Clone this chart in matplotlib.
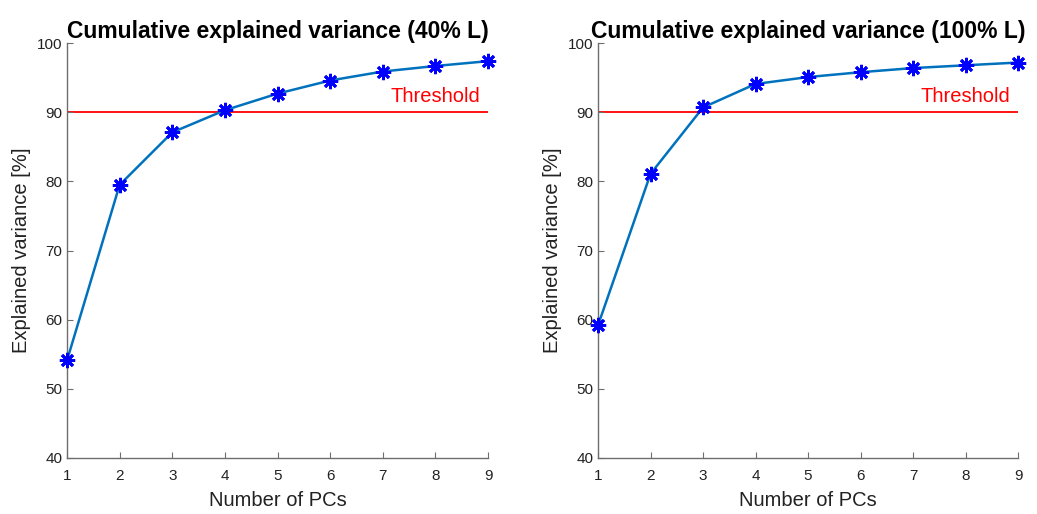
import matplotlib
matplotlib.use("Agg")
import matplotlib.pyplot as plt

# ──────────────────────────────────────────────────────────────────────────────
# Data
n_pcs = [1, 2, 3, 4, 5, 6, 7, 8, 9]
var_40 = [54.1, 79.5, 87.1, 90.3, 92.7, 94.6, 95.9, 96.7, 97.4]
var_100 = [59.2, 81.1, 90.7, 94.1, 95.1, 95.8, 96.4, 96.8, 97.2]
titles = ["Cumulative explained variance (40% L)",
          "Cumulative explained variance (100% L)"]
threshold = 90
# ──────────────────────────────────────────────────────────────────────────────

plt.rcParams["font.family"] = ["Liberation Sans", "DejaVu Sans"]

LINE_BLUE = (0.0, 0.447, 0.741)
AX_GREY = "#6e6e6e"

fig = plt.figure(figsize=(10.37, 5.14), dpi=100)
ax1 = fig.add_axes([0.0646, 0.109, 0.406, 0.807])
ax2 = fig.add_axes([0.5767, 0.109, 0.405, 0.807])

for ax, vals, title in [(ax1, var_40, titles[0]), (ax2, var_100, titles[1])]:
    ax.plot(n_pcs, vals, color=LINE_BLUE, lw=1.8, zorder=2, clip_on=False)
    # MATLAB-style '*' marker: 8-spoke asterisk
    ax.plot(n_pcs, vals, ls="none", marker=(8, 2, 0), ms=11, mew=2.0,
            color="blue", zorder=3, clip_on=False)
    ax.plot([n_pcs[0], n_pcs[-1]], [threshold, threshold], color="red",
            lw=1.3, zorder=1)
    ax.text(8.0, 90.9, "Threshold", color="red", fontsize=14.5,
            ha="center", va="bottom")

    ax.set_xlim(1, 9)
    ax.set_ylim(40, 100)
    ax.set_xticks(n_pcs)
    ax.set_yticks(range(40, 101, 10))
    ax.tick_params(direction="in", length=4, color=AX_GREY, labelsize=11,
                   labelcolor="#222222")
    ax.tick_params(axis="x", pad=8)
    for s in ["top", "right"]:
        ax.spines[s].set_visible(False)
    for s in ["left", "bottom"]:
        ax.spines[s].set_color(AX_GREY)
        ax.spines[s].set_linewidth(1.0)

    ax.set_xlabel("Number of PCs", fontsize=14.5, color="#222222", labelpad=6)
    ax.set_ylabel("Explained variance [%]", fontsize=14.5, color="#222222")
    ax.set_title(title, fontsize=16.5, fontweight="bold", pad=4)

fig.savefig("out.png", dpi=100)
